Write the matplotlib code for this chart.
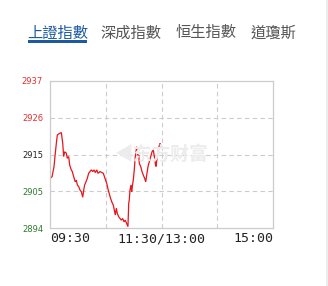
import matplotlib
matplotlib.use('Agg')
import matplotlib.pyplot as plt
from matplotlib.patches import Rectangle

tabs = ['上證指數', '深成指數', '恒生指數', '道瓊斯']
tab_x = [27, 100, 176, 251]

# minutes since 09:30 (lunch break removed) and index level
minutes = [0, 2.2, 4.3, 5.7, 7.2, 7.9, 10.4, 12.2, 13.7, 14.7, 15.8, 17.5, 18.6,
           20.1, 21.2, 22.9, 24, 25.5, 27.2, 28.3, 29.4, 30.9, 32.3, 33.7, 35.2,
           36.3, 37.3, 38.7, 40.1, 41.6, 43, 44.4, 46, 47.4, 48.8, 50.3, 51.7,
           53.8, 57.4, 59.2, 61, 62.7, 64.6, 66.4, 68.1, 69.2, 70.3, 71.4, 72.4,
           73.9, 75.3, 76.7, 78.2, 79.6, 81, 82.5, 83.9, 84.7, 85.3, 86.1, 87.2,
           87.9, 88.6, 89.6, 90.7, 91.8, 93.3, 94.4, 95.5, 96.1, 97.6, 99, 100.4,
           101.9, 103, 104.1, 105.5, 106.9, 108.4, 109.8, 111.2, 112.3, 113.3,
           114.1, 115.2, 116.2, 117.3, 118.4, 119.8]
prices = [2908.5, 2909.0, 2911.9, 2915.9, 2919.7, 2921.2, 2921.7, 2921.9, 2918.8,
          2914.9, 2916.3, 2915.9, 2914.4, 2914.9, 2912.4, 2911.0, 2910.5, 2909.0,
          2907.5, 2908.0, 2906.6, 2906.1, 2905.1, 2904.6, 2903.0, 2905.1, 2906.6,
          2907.5, 2908.5, 2910.0, 2910.5, 2911.0, 2910.5, 2911.0, 2910.2, 2911.0,
          2910.0, 2910.5, 2910.0, 2908.5, 2907.1, 2905.1, 2903.2, 2901.7, 2900.7,
          2899.3, 2897.8, 2899.8, 2898.3, 2897.3, 2896.8, 2896.3, 2896.8, 2895.8,
          2896.3, 2895.3, 2894.4, 2901.2, 2902.2, 2905.1, 2906.6, 2904.6, 2906.1,
          2908.0, 2911.0, 2914.9, 2917.8, 2914.9, 2915.4, 2912.9, 2912.0, 2910.5,
          2909.5, 2908.5, 2907.5, 2909.5, 2912.0, 2913.4, 2914.9, 2916.3, 2916.8,
          2914.9, 2912.9, 2912.0, 2914.4, 2915.9, 2917.8, 2918.8, 2917.8]

y_ticks = [2894, 2904.75, 2915.5, 2926.25, 2937]
y_labels = ['2894', '2905', '2915', '2926', '2937']
y_colors = ['#2f7a2f', '#2f7a2f', '#222222', '#e53030', '#e53030']
x_ticks = [0, 120, 240]
x_labels = ['09:30', '11:30/13:00', '15:00']

W, H = 328, 286
fig = plt.figure(figsize=(W / 100, H / 100), dpi=100)
fig.patch.set_facecolor('white')

# tabs on top
for i, t in enumerate(tabs):
    c = '#1d5a9e' if i == 0 else '#555555'
    fig.text(tab_x[i] / W, 1 - 33 / H, t, fontsize=11, color=c, va='center', ha='left',
             family=['Noto Sans CJK TC', 'DejaVu Sans'])
fig.patches.append(Rectangle((28 / W, 1 - 43 / H), 59 / W, 3 / H, transform=fig.transFigure,
                             color='#1d5a9e', lw=0))
fig.patches.append(Rectangle((326 / W, 0), 2 / W, 1, transform=fig.transFigure,
                             color='#ececec', lw=0))

ax = fig.add_axes([50 / W, 58 / H, 223 / W, 147 / H])
ax.set_xlim(0, 240)
ax.set_ylim(2894, 2937)

for v in [60, 120, 180]:
    ax.axvline(v, color='#cccccc', lw=0.8, ls=(0, (4, 3)))
for v in y_ticks[1:4]:
    ax.axhline(v, color='#cccccc', lw=0.8, ls=(0, (4, 3)))

# watermark
ax.text(0.50, 0.50, '◀东方财富', transform=ax.transAxes, fontsize=13.5, color='#ececec',
        ha='center', va='center', family=['Noto Sans CJK SC', 'DejaVu Sans'], fontweight='bold')

ax.plot(minutes, prices, color='#e8141a', lw=0.9, solid_joinstyle='miter')

for s in ax.spines.values():
    s.set_color('#cccccc')
    s.set_linewidth(0.9)

ax.set_yticks(y_ticks)
ax.set_yticklabels(y_labels, fontsize=6)
for lbl, c in zip(ax.get_yticklabels(), y_colors):
    lbl.set_color(c)
ax.set_xticks(x_ticks)
ax.set_xticklabels(x_labels, fontsize=9.5, family='DejaVu Sans Mono', color='#222222')
xl = ax.get_xticklabels()
xl[0].set_ha('left')
xl[2].set_ha('right')
ax.tick_params(length=0, pad=3)
ax.tick_params(axis='y', pad=5)

plt.savefig('out.png', dpi=100)
